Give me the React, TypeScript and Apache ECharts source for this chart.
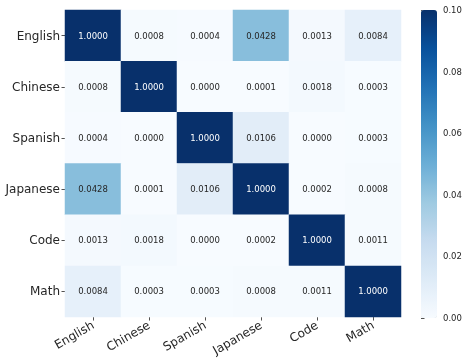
import React, { useEffect, useRef } from "react";
import * as echarts from "echarts";

const categories = ["English", "Chinese", "Spanish", "Japanese", "Code", "Math"];
const rowEnglish = [1.0, 0.0008, 0.0004, 0.0428, 0.0013, 0.0084];
const rowChinese = [0.0008, 1.0, 0.0, 0.0001, 0.0018, 0.0003];
const rowSpanish = [0.0004, 0.0, 1.0, 0.0106, 0.0, 0.0003];
const rowJapanese = [0.0428, 0.0001, 0.0106, 1.0, 0.0002, 0.0008];
const rowCode = [0.0013, 0.0018, 0.0, 0.0002, 1.0, 0.0011];
const rowMath = [0.0084, 0.0003, 0.0003, 0.0008, 0.0011, 1.0];
const rows = [rowEnglish, rowChinese, rowSpanish, rowJapanese, rowCode, rowMath];
const colorMin = 0;
const colorMax = 0.1;
const colorTicks = [0, 0.02, 0.04, 0.06, 0.08, 0.1];
const blues = ["#f7fbff", "#deebf7", "#c6dbef", "#9ecae1", "#6baed6", "#4292c6", "#2171b5", "#08519c", "#08306b"];

export default function App() {
  const ref = useRef<HTMLDivElement>(null);
  useEffect(() => {
    if (!ref.current) return;
    const chart = echarts.init(ref.current, null, { renderer: "svg" });
    const data: any[] = [];
    rows.forEach((row, r) => {
      row.forEach((v, c) => {
        data.push({
          value: [c, r, Math.min(Math.max(v, colorMin), colorMax), v],
          label: { color: v > 0.06 ? "#ffffff" : "#262626" },
        });
      });
    });
    const font = "DejaVu Sans";
    chart.setOption({
      animation: false,
      textStyle: { fontFamily: font },
      grid: [
        { left: 65, top: 10, width: 336, height: 308 },
        { left: 421, top: 10, width: 16, height: 308 },
      ],
      xAxis: [
        {
          type: "category",
          data: categories,
          gridIndex: 0,
          position: "bottom",
          axisLine: { show: false },
          axisTick: { show: true, alignWithLabel: true, length: 3.5, lineStyle: { color: "#262626", width: 0.8 } },
          axisLabel: { rotate: 30, fontSize: 12, color: "#262626", fontFamily: font, margin: 7 },
          splitLine: { show: false },
        },
        { type: "value", gridIndex: 1, show: false, min: 0, max: 1 },
      ],
      yAxis: [
        {
          type: "category",
          data: categories,
          inverse: true,
          gridIndex: 0,
          axisLine: { show: false },
          axisTick: { show: true, alignWithLabel: true, length: 3.5, lineStyle: { color: "#262626", width: 0.8 } },
          axisLabel: { fontSize: 12, color: "#262626", fontFamily: font, margin: 5 },
          splitLine: { show: false },
        },
        {
          type: "value",
          gridIndex: 1,
          position: "right",
          min: 0,
          max: colorMax,
          interval: 0.02,
          axisLine: { show: false },
          axisTick: { show: true, length: 3.5, lineStyle: { color: "#262626", width: 0.8 } },
          axisLabel: {
            fontSize: 8.5,
            color: "#262626",
            fontFamily: font,
            margin: 6,
            formatter: (v: number) => (colorTicks.some((t) => Math.abs(t - v) < 1e-9) ? v.toFixed(2) : ""),
          },
          splitLine: { show: false },
        },
      ],
      visualMap: {
        type: "continuous",
        min: colorMin,
        max: colorMax,
        dimension: 2,
        seriesIndex: 0,
        calculable: false,
        show: true,
        left: 421,
        top: 10,
        itemWidth: 16,
        itemHeight: 308,
        padding: 0,
        text: ["", ""],
        showLabel: false,
        inRange: { color: blues },
        hoverLink: false,
      },
      series: [
        {
          type: "heatmap",
          xAxisIndex: 0,
          yAxisIndex: 0,
          data,
          label: {
            show: true,
            fontSize: 8.5,
            fontFamily: font,
            formatter: (p: any) => Number(p.value[3]).toFixed(4),
          },
          itemStyle: { borderWidth: 0 },
          emphasis: { disabled: true },
        },
      ],
    });
    return () => chart.dispose();
  }, []);
  return <div ref={ref} style={{ position: "fixed", left: 0, top: 0, width: 473, height: 358 }} />;
}
